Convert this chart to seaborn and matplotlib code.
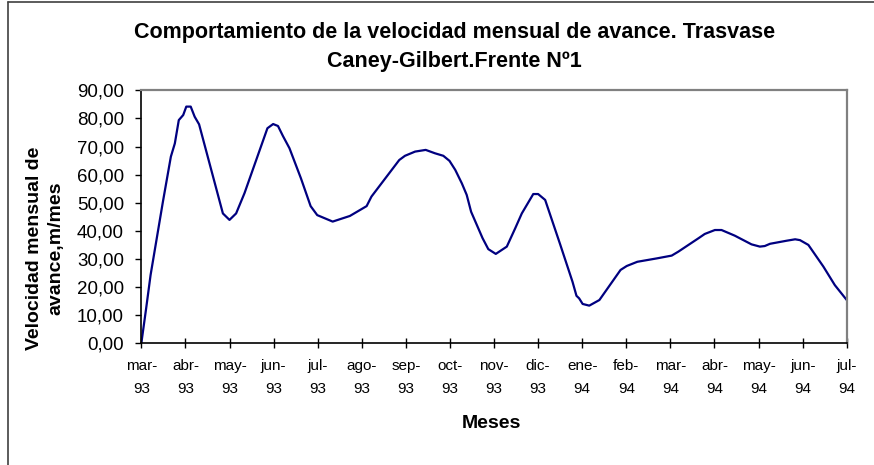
import matplotlib
matplotlib.use("Agg")
import matplotlib.pyplot as plt
from matplotlib.lines import Line2D
import seaborn as sns
import pandas as pd

# Months covered by the series (tick labels, two lines each)
meses = ["mar-", "abr-", "may-", "jun-", "jul-", "ago-", "sep-", "oct-",
         "nov-", "dic-", "ene-", "feb-", "mar-", "abr-", "may-", "jun-", "jul-"]
anios = ["93"] * 10 + ["94"] * 7

# Elapsed time in months since March 1993
tiempo_meses = [0.00, 0.11, 0.21, 0.49, 0.67, 0.76, 0.85, 0.95, 1.02, 1.12,
                1.21, 1.31, 1.85, 2.00, 2.15, 2.34, 2.86, 2.99, 3.10, 3.21,
                3.36, 3.62, 3.84, 3.99, 4.34, 4.73, 5.11, 5.22, 5.85, 5.98,
                6.21, 6.45, 6.66, 6.85, 6.99, 7.12, 7.27, 7.38, 7.48, 7.74,
                7.87, 8.04, 8.29, 8.48, 8.63, 8.89, 9.00, 9.16, 9.50, 9.78,
                9.87, 9.93, 10.01, 10.16, 10.39, 10.87, 11.01, 11.25, 11.69, 12.03,
                12.18, 12.64, 12.78, 13.01, 13.16, 13.46, 13.84, 14.03, 14.14, 14.26,
                14.64, 14.83, 14.94, 15.13, 15.47, 15.73, 16.00]

# Monthly advance rate, m/mes
velocidad = [0.0, 12.5, 24.3, 50.4, 66.4, 71.1, 79.4, 81.2, 84.2, 84.2,
             80.6, 77.9, 46.2, 43.9, 46.2, 53.4, 76.5, 78.0, 77.3, 73.8,
             69.4, 58.7, 48.8, 45.6, 43.3, 45.3, 48.8, 52.2, 65.2, 66.7,
             68.2, 68.8, 67.6, 66.7, 64.9, 61.7, 56.9, 52.8, 46.8, 37.4,
             33.5, 31.8, 34.4, 40.9, 46.2, 53.1, 53.1, 51.0, 35.2, 21.9,
             16.9, 16.0, 14.0, 13.4, 15.4, 26.1, 27.5, 29.0, 30.2, 31.2,
             32.6, 37.4, 38.9, 40.3, 40.3, 38.3, 35.2, 34.4, 34.6, 35.4,
             36.5, 37.0, 36.7, 35.0, 27.3, 20.7, 15.4]

y_ticks = [0, 10, 20, 30, 40, 50, 60, 70, 80, 90]

df = pd.DataFrame({"mes": tiempo_meses, "velocidad": velocidad})

sns.set_theme(style="white")
plt.rcParams["font.family"] = ["Liberation Sans", "DejaVu Sans"]
plt.rcParams["text.color"] = "black"
plt.rcParams["axes.labelcolor"] = "black"
plt.rcParams["xtick.color"] = "black"
plt.rcParams["ytick.color"] = "black"

fig = plt.figure(figsize=(8.74, 4.65), dpi=100)
ax = fig.add_axes([0.1617, 0.2617, 0.8071, 0.5441])

sns.lineplot(data=df, x="mes", y="velocidad", ax=ax, color="#000080",
             linewidth=1.6, estimator=None, sort=False)

ax.set_xlim(0, len(meses) - 1)
ax.set_ylim(0, 90)

ax.set_xticks(range(len(meses)))
ax.set_xticklabels([f"{m}\n{a}" for m, a in zip(meses, anios)],
                   fontsize=11, linespacing=1.75,
                   family=["Liberation Sans Narrow", "Liberation Sans"])
ax.set_yticks(y_ticks)
ax.set_yticklabels([f"{v:.2f}".replace(".", ",") for v in y_ticks], fontsize=13.5)

ax.tick_params(axis="x", direction="inout", length=7, width=1, color="black",
               pad=8, bottom=True)
ax.tick_params(axis="y", direction="out", length=4, width=1, color="black",
               pad=8.5, left=True)

for side in ("left", "bottom"):
    ax.spines[side].set_color("black")
    ax.spines[side].set_linewidth(1.2)
for side in ("top", "right"):
    ax.spines[side].set_color("#808080")
    ax.spines[side].set_linewidth(1.6)

ax.set_xlabel("Meses", fontsize=14, fontweight="bold")
ax.xaxis.set_label_coords(0.497, -0.315)
ax.xaxis.label.set_va("center")

ax.set_ylabel("Velocidad mensual de\navance,m/mes", fontsize=14,
              fontweight="bold", linespacing=1.3)
ax.yaxis.set_label_coords(-0.136, 0.377)
ax.yaxis.label.set_va("center")

fig.text(0.52, 0.898,
         "Comportamiento de la velocidad mensual de avance. Trasvase\nCaney-Gilbert.Frente Nº1",
         ha="center", va="center", fontsize=15.5, fontweight="bold",
         linespacing=1.5)

# Chart-area frame along the top and left edges
fig.add_artist(Line2D([7.5 / 874, 1.0], [1 - 2.5 / 465, 1 - 2.5 / 465],
                      transform=fig.transFigure, color="#404040", linewidth=1.2))
fig.add_artist(Line2D([7.5 / 874, 7.5 / 874], [0.0, 1 - 2.5 / 465],
                      transform=fig.transFigure, color="#404040", linewidth=1.2))

fig.savefig("out.png", dpi=100, facecolor="white")
